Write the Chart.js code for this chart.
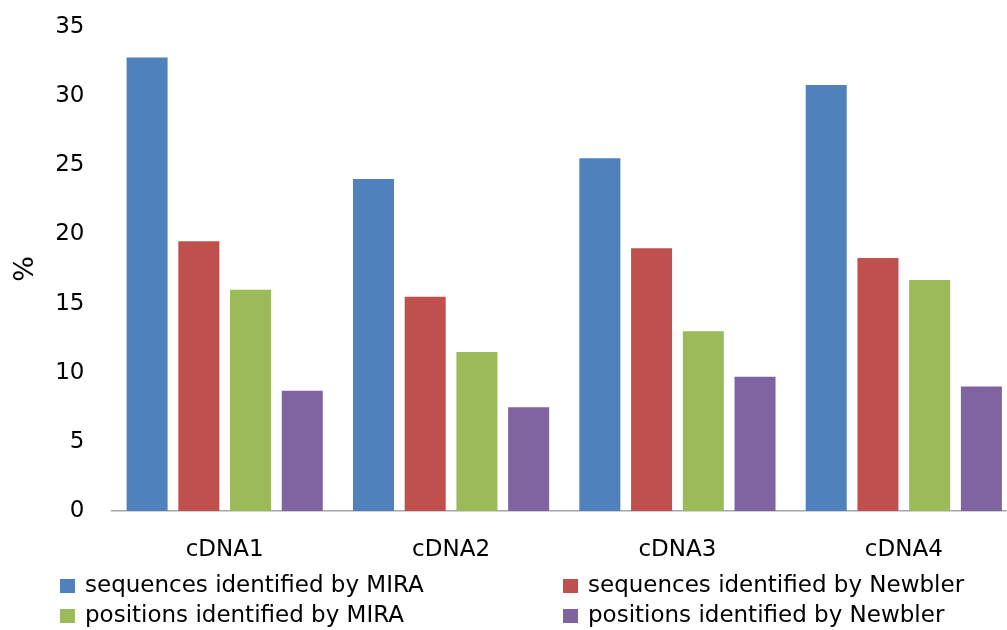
<!DOCTYPE html>
<html>
<head>
<meta charset="utf-8">
<script src="https://cdn.jsdelivr.net/npm/chart.js@4/dist/chart.umd.min.js"></script>
<style>
  html, body { margin: 0; padding: 0; background: #fff; overflow: hidden; }
  #wrap { position: relative; width: 1007px; height: 630px; overflow: hidden; }
  #box { position: absolute; left: 0; top: 0; width: 1020px; height: 630px; }
</style>
</head>
<body>
<div id="wrap"><div id="box"><canvas id="c"></canvas></div></div>
<script>
const categories = ['cDNA1', 'cDNA2', 'cDNA3', 'cDNA4'];
const seqMira     = [32.8, 24.0, 25.5, 30.8];
const seqNewbler  = [19.5, 15.5, 19.0, 18.3];
const posMira     = [16.0, 11.5, 13.0, 16.7];
const posNewbler  = [8.7, 7.5, 9.7, 9.0];
const seriesNames = [
  'sequences identified by MIRA',
  'sequences identified by Newbler',
  'positions identified by MIRA',
  'positions identified by Newbler'
];
const seriesColors = ['#4F81BD', '#C0504D', '#9BBB59', '#8064A2'];
const yTicks = [0, 5, 10, 15, 20, 25, 30, 35];

const FONT = '"DejaVu Sans", "Open Sans", sans-serif';
const TEXT_SIZE = 23;

// Two-column legend drawn below the plot
const gridLegend = {
  id: 'gridLegend',
  afterDraw(chart) {
    const ctx = chart.ctx;
    const cols = [60, 563];
    const rows = [586, 616];
    ctx.save();
    ctx.font = TEXT_SIZE + 'px ' + FONT;
    ctx.textBaseline = 'middle';
    ctx.textAlign = 'left';
    chart.data.datasets.forEach((ds, i) => {
      const x = cols[i % 2];
      const y = rows[Math.floor(i / 2)];
      ctx.fillStyle = ds.backgroundColor;
      ctx.fillRect(x, y - 7, 15, 14);
      ctx.fillStyle = '#000';
      ctx.fillText(ds.label, x + 25, y);
    });
    ctx.restore();
  }
};

const datasets = [seqMira, seqNewbler, posMira, posNewbler].map((vals, i) => ({
  label: seriesNames[i],
  data: vals,
  backgroundColor: seriesColors[i],
  borderWidth: 0,
  categoryPercentage: 0.914,
  barPercentage: 0.793
}));

new Chart(document.getElementById('c'), {
  type: 'bar',
  data: { labels: categories, datasets },
  options: {
    responsive: true,
    maintainAspectRatio: false,
    animation: false,
    layout: { padding: { top: 27, right: 3, bottom: 0, left: 0 } },
    plugins: { legend: { display: false }, tooltip: { enabled: false } },
    scales: {
      x: {
        grid: { display: false, drawTicks: false },
        border: { display: true, color: '#A6A6A6', width: 1.5 },
        ticks: { color: '#000', font: { family: FONT, size: TEXT_SIZE }, padding: 25 },
        afterFit(scale) { scale.height = 119; }
      },
      y: {
        min: 0,
        max: 35,
        afterBuildTicks(scale) { scale.ticks = yTicks.map(v => ({ value: v })); },
        grid: { display: false, drawTicks: false },
        border: { display: false },
        ticks: { color: '#000', font: { family: FONT, size: TEXT_SIZE }, padding: 27 },
        title: { display: true, text: '%', color: '#000', font: { family: FONT, size: 27 }, padding: { top: 10, bottom: 0 } },
        afterFit(scale) {
          scale.width = 111.5;
          scale.paddingTop = 0;
          scale.paddingBottom = 0;
        }
      }
    }
  },
  plugins: [gridLegend]
});
</script>
</body>
</html>
